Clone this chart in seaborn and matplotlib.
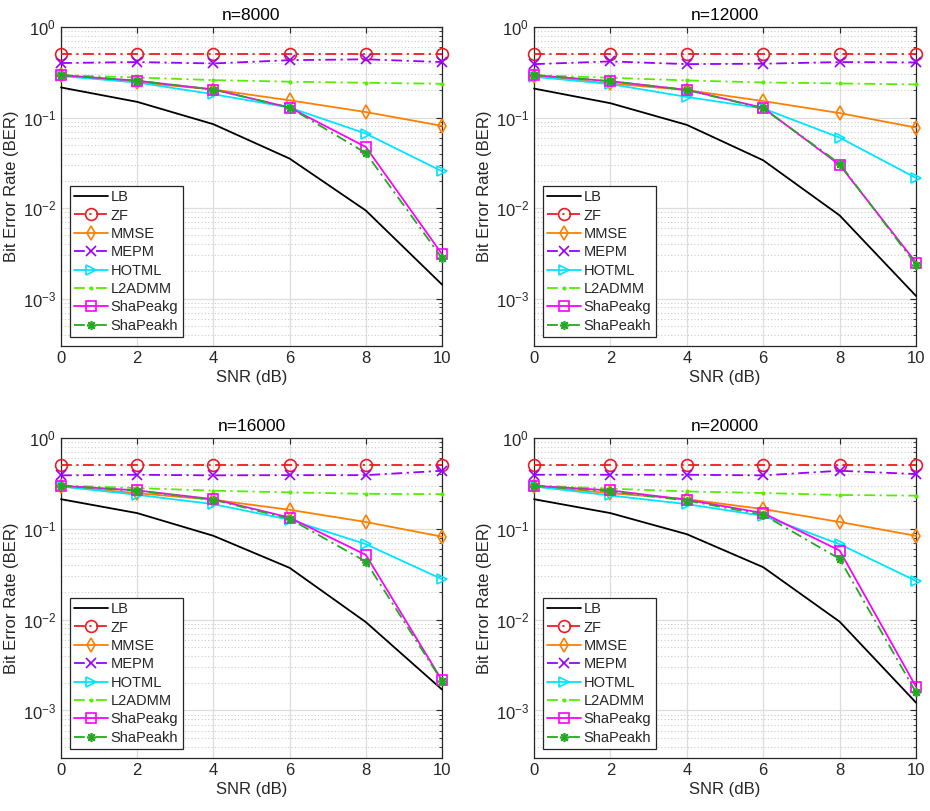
import numpy as np
import pandas as pd
import seaborn as sns
import matplotlib.pyplot as plt

# === DATA ===
snr_db = [0, 2, 4, 6, 8, 10]
titles = ["n=8000", "n=12000", "n=16000", "n=20000"]
methods = ["LB", "ZF", "MMSE", "MEPM", "HOTML", "L2ADMM", "ShaPeakg", "ShaPeakh"]

# n=8000
lb_8000 = [0.215, 0.149, 0.0844, 0.0352, 0.0094, 0.00143]
zf_8000 = [0.50, 0.50, 0.50, 0.50, 0.50, 0.50]
mmse_8000 = [0.294, 0.245, 0.204, 0.155, 0.115, 0.081]
mepm_8000 = [0.40, 0.41, 0.396, 0.43, 0.44, 0.41]
hotml_8000 = [0.287, 0.244, 0.181, 0.129, 0.0665, 0.0255]
l2admm_8000 = [0.294, 0.277, 0.259, 0.249, 0.242, 0.236]
shapeakg_8000 = [0.294, 0.255, 0.204, 0.129, 0.0473, 0.0031]
shapeakh_8000 = [0.294, 0.255, 0.204, 0.129, 0.0406, 0.0028]

# n=12000
lb_12000 = [0.209, 0.144, 0.083, 0.0337, 0.0083, 0.00107]
zf_12000 = [0.50, 0.50, 0.50, 0.50, 0.50, 0.50]
mmse_12000 = [0.287, 0.238, 0.201, 0.152, 0.112, 0.0775]
mepm_12000 = [0.389, 0.417, 0.389, 0.393, 0.41, 0.406]
hotml_12000 = [0.282, 0.234, 0.169, 0.126, 0.060, 0.0215]
l2admm_12000 = [0.294, 0.275, 0.257, 0.244, 0.238, 0.232]
shapeakg_12000 = [0.294, 0.252, 0.202, 0.128, 0.030, 0.0025]
shapeakh_12000 = [0.294, 0.252, 0.202, 0.126, 0.031, 0.00236]

# n=16000
lb_16000 = [0.212, 0.149, 0.0838, 0.0372, 0.0094, 0.0017]
zf_16000 = [0.50, 0.50, 0.50, 0.50, 0.50, 0.50]
mmse_16000 = [0.293, 0.247, 0.209, 0.162, 0.119, 0.082]
mepm_16000 = [0.388, 0.394, 0.388, 0.39, 0.39, 0.436]
hotml_16000 = [0.293, 0.237, 0.187, 0.126, 0.0678, 0.0279]
l2admm_16000 = [0.30, 0.281, 0.263, 0.252, 0.243, 0.241]
shapeakg_16000 = [0.298, 0.265, 0.212, 0.133, 0.0517, 0.00214]
shapeakh_16000 = [0.298, 0.262, 0.209, 0.129, 0.0436, 0.0021]

# n=20000
lb_20000 = [0.212, 0.149, 0.0873, 0.0378, 0.0095, 0.00122]
zf_20000 = [0.50, 0.50, 0.50, 0.50, 0.50, 0.50]
mmse_20000 = [0.293, 0.247, 0.212, 0.165, 0.119, 0.0837]
mepm_20000 = [0.394, 0.394, 0.394, 0.388, 0.436, 0.401]
hotml_20000 = [0.293, 0.233, 0.187, 0.139, 0.0678, 0.0267]
l2admm_20000 = [0.30, 0.277, 0.258, 0.248, 0.236, 0.232]
shapeakg_20000 = [0.298, 0.265, 0.209, 0.149, 0.0577, 0.00182]
shapeakh_20000 = [0.298, 0.258, 0.205, 0.143, 0.0467, 0.00158]

panel_data = [
    [lb_8000, zf_8000, mmse_8000, mepm_8000, hotml_8000, l2admm_8000, shapeakg_8000, shapeakh_8000],
    [lb_12000, zf_12000, mmse_12000, mepm_12000, hotml_12000, l2admm_12000, shapeakg_12000, shapeakh_12000],
    [lb_16000, zf_16000, mmse_16000, mepm_16000, hotml_16000, l2admm_16000, shapeakg_16000, shapeakh_16000],
    [lb_20000, zf_20000, mmse_20000, mepm_20000, hotml_20000, l2admm_20000, shapeakg_20000, shapeakh_20000],
]

# === STYLES (MATLAB-like) ===
DASHDOT = (0, (6, 2.5, 1.2, 2.5))
styles = {
    "LB":       dict(color="black",   ls="-",     marker=None,      ms=0,   mfc="none"),
    "ZF":       dict(color="#ec1c24", ls=DASHDOT, marker="o",       ms=8.5, mfc="none"),
    "MMSE":     dict(color="#ff8000", ls="-",     marker="d",       ms=7.5, mfc="none"),
    "MEPM":     dict(color="#9900ff", ls=DASHDOT, marker="x",       ms=6.5, mfc="none"),
    "HOTML":    dict(color="#00e5ff", ls="-",     marker=">",       ms=6.5, mfc="none"),
    "L2ADMM":   dict(color="#55ee00", ls=DASHDOT, marker=".",       ms=3.5, mfc="#55ee00"),
    "ShaPeakg": dict(color="#ff00ff", ls="-",     marker="s",       ms=7.5, mfc="none"),
    "ShaPeakh": dict(color="#22aa22", ls=DASHDOT, marker=(8, 2, 0), ms=6.5, mfc="none"),
}

sns.set_style("white")
plt.rcParams['font.family'] = ['Liberation Sans', 'DejaVu Sans']
plt.rcParams['font.size'] = 12
plt.rcParams['mathtext.fontset'] = 'custom'
plt.rcParams['mathtext.rm'] = 'Liberation Sans'
plt.rcParams['mathtext.it'] = 'Liberation Sans'

fig = plt.figure(figsize=(9.3, 8.11), dpi=100)
positions = [
    [0.0656, 0.5734, 0.4097, 0.3933],
    [0.5742, 0.5734, 0.4108, 0.3933],
    [0.0656, 0.0654, 0.4097, 0.3945],
    [0.5742, 0.0654, 0.4108, 0.3945],
]

for i, pos in enumerate(positions):
    ax = fig.add_axes(pos)
    for name, values in zip(methods, panel_data[i]):
        st = styles[name]
        df = pd.DataFrame({"snr": snr_db, "ber": values})
        sns.lineplot(data=df, x="snr", y="ber", ax=ax, label=name,
                     color=st["color"], linestyle=st["ls"], linewidth=1.3,
                     marker=st["marker"], markersize=st["ms"],
                     markerfacecolor=st["mfc"], markeredgecolor=st["color"],
                     markeredgewidth=1.2, clip_on=False, zorder=3)

    ax.set_yscale("log")
    ax.set_xlim(0, 10)
    ax.set_ylim(3e-4, 1)
    ax.set_xticks(snr_db)
    ax.set_yticks([1e-3, 1e-2, 1e-1, 1e0])
    ax.set_yticklabels([r"$10^{-3}$", r"$10^{-2}$", r"$10^{-1}$", r"$10^{0}$"])
    ax.set_xlabel("SNR (dB)", fontsize=12, color="#262626", labelpad=3)
    ax.set_ylabel("Bit Error Rate (BER)", fontsize=12, color="#262626", labelpad=3)
    ax.set_title(titles[i], fontsize=12.5, color="black", pad=5)

    # grids: major solid light, minor dotted
    ax.grid(True, which="major", color="#dddddd", linestyle="-", linewidth=0.9)
    ax.grid(True, which="minor", axis="y", color="#cccccc", linestyle=(0, (1, 2)), linewidth=0.8)
    ax.set_axisbelow(True)
    ax.tick_params(which="both", direction="in", top=True, right=True,
                   labelsize=12, colors="#262626")
    ax.tick_params(which="major", length=4)
    ax.tick_params(which="minor", length=2)
    for sp in ax.spines.values():
        sp.set_visible(True)
        sp.set_color("#262626")
        sp.set_linewidth(0.9)

    leg = ax.legend(loc="lower left", fontsize=10.5, frameon=True, fancybox=False,
                    framealpha=1, edgecolor="#262626", handlelength=2.3,
                    handletextpad=0.2, labelspacing=0.3, borderpad=0.3,
                    borderaxespad=0.6)
    leg.get_frame().set_linewidth(0.9)

plt.savefig("out.png", dpi=100)
plt.close()
